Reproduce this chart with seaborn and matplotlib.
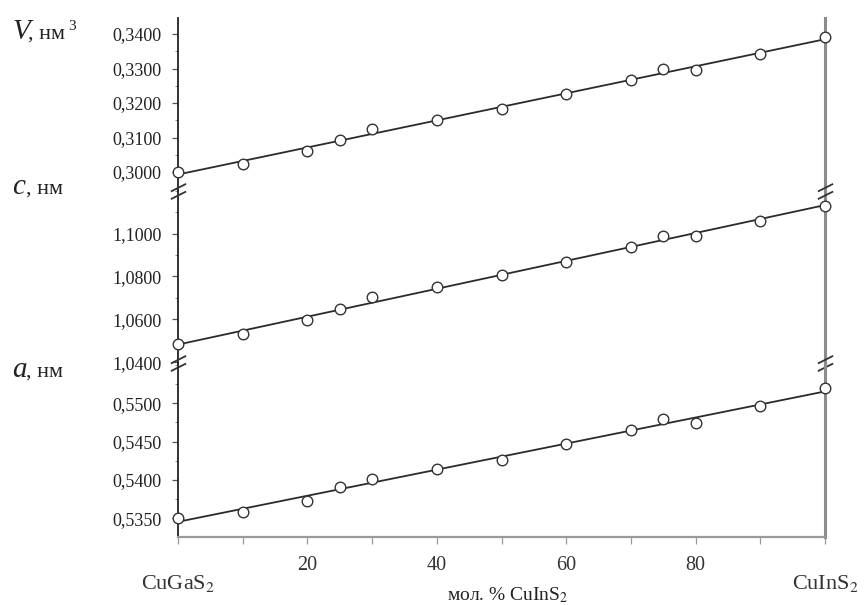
import numpy as np
import pandas as pd
import matplotlib
matplotlib.use("Agg")
import matplotlib.pyplot as plt
import matplotlib.transforms as mtransforms
import seaborn as sns
from matplotlib.path import Path
from matplotlib.ticker import FuncFormatter, MultipleLocator, FixedLocator

# ---- data ----
x_mol = [0, 10, 20, 25, 30, 40, 50, 60, 70, 75, 80, 90, 100]
v_nm3 = [0.3000, 0.3023, 0.3061, 0.3093, 0.3125, 0.3151, 0.3182,
         0.3226, 0.3267, 0.3300, 0.3296, 0.3341, 0.3390]
c_nm = [1.0483, 1.0530, 1.0598, 1.0648, 1.0703, 1.0749, 1.0809,
        1.0869, 1.0937, 1.0991, 1.0991, 1.1060, 1.1129]
a_nm = [0.5351, 0.5358, 0.5373, 0.5391, 0.5401, 0.5414, 0.5426,
        0.5447, 0.5465, 0.5480, 0.5474, 0.5496, 0.5520]

v_ticks = [0.30, 0.31, 0.32, 0.33, 0.34]
c_ticks = [1.04, 1.06, 1.08, 1.10]
a_ticks = [0.535, 0.540, 0.545, 0.550]
x_ticks = [0, 10, 20, 30, 40, 50, 60, 70, 80, 90, 100]
x_labelled = [20, 40, 60, 80]

df = pd.DataFrame({"x": x_mol, "V": v_nm3, "c": c_nm, "a": a_nm})

# ---- style ----
sns.set_style("ticks")
plt.rcParams["font.family"] = ["Liberation Serif", "DejaVu Serif"]
plt.rcParams["mathtext.fontset"] = "stix"

W, H = 865, 605
fig = plt.figure(figsize=(W / 100, H / 100), dpi=100)

def px(x, y):
    return x / W, 1 - y / H

left, right = 178, 825
panels = [
    # name, top px, bottom px, ylim, ticks, minor step
    ("V", 18, 190.5, (0.29464, 0.34464), v_ticks, 0.005),
    ("c", 190.5, 363, (1.0396, 1.1201), c_ticks, 0.01),
    ("a", 363, 537, (0.53256, 0.55526), a_ticks, 0.0025),
]

line_col = "#2b2b2b"
axes = {}
for name, top, bot, ylim, ticks, mstep in panels:
    x0, y1 = px(left, top)
    x1, y0 = px(right, bot)
    ax = fig.add_axes([x0, y0, x1 - x0, y1 - y0])
    ax.set_facecolor("none")
    axes[name] = ax

    # fitted straight line + open circles
    sns.regplot(data=df, x="x", y=name, ax=ax, ci=None, scatter=False,
                truncate=True, line_kws=dict(color=line_col, lw=1.3, zorder=3))
    sns.scatterplot(data=df, x="x", y=name, ax=ax, s=58, color="white",
                    edgecolor="#333333", linewidth=1.0, zorder=4, clip_on=False)

    ax.set_xlim(0, 100)
    ax.set_ylim(*ylim)
    ax.set_xlabel("")
    ax.set_ylabel("")
    ax.yaxis.set_major_locator(FixedLocator(ticks))
    ax.yaxis.set_minor_locator(MultipleLocator(mstep))
    ax.yaxis.set_major_formatter(FuncFormatter(lambda v, p: f"{v:.4f}".replace(".", ",")))
    ax.tick_params(axis="y", which="major", direction="out", length=4.5, width=0.9,
                   color="#555555", labelsize=13, pad=7.5, labelcolor="#222222")
    ax.tick_params(axis="y", which="minor", direction="out", length=2.5, width=0.7,
                   color="#888888")

    ax.spines["top"].set_visible(False)
    ax.spines["left"].set_color("#222222")
    ax.spines["left"].set_linewidth(1.3)
    ax.spines["right"].set_visible(True)
    ax.spines["right"].set_color("#8c8c8c")
    ax.spines["right"].set_linewidth(2.2)
    if name != "a":
        ax.spines["bottom"].set_visible(False)
        ax.tick_params(axis="x", bottom=False, labelbottom=False)

ax_a = axes["a"]
ax_a.spines["bottom"].set_color("#9a9a9a")
ax_a.spines["bottom"].set_linewidth(1.6)
ax_a.xaxis.set_major_locator(FixedLocator(x_ticks))
ax_a.xaxis.set_major_formatter(FuncFormatter(lambda v, p: f"{int(v)}" if int(v) in x_labelled else ""))
ax_a.tick_params(axis="x", direction="out", length=5, width=0.9, color="#999999",
                 labelsize=14.5, pad=9, labelcolor="#333333")

# ---- axis break marks ----
brk = Path([(-1, -1.0), (1, 0.0), (-1, 0.0), (1, 1.0)],
           [Path.MOVETO, Path.LINETO, Path.MOVETO, Path.LINETO])
ax_c = axes["c"]
for yv in ax_c.get_ylim():
    ax_c.plot([0, 100], [yv, yv], ls="none", marker=brk, ms=11, mew=1.3,
              color="#333333", clip_on=False, zorder=6)

# ---- end-member labels and axis title ----
bt = mtransforms.blended_transform_factory(ax_a.transData, fig.transFigure)
ax_a.text(0, 1 - 589 / H, "CuGaS$_2$", transform=bt, ha="center", va="baseline",
          fontsize=16, color="#333333")
ax_a.text(100, 1 - 589 / H, "CuInS$_2$", transform=bt, ha="center", va="baseline",
          fontsize=16, color="#333333")
fig.text(px(508, 0)[0], 1 - 600 / H, "мол. % CuInS$_2$", ha="center", va="baseline",
         fontsize=14, color="#222222")

# ---- quantity labels ----
for letter, base in [("V", 39), ("c", 194), ("a", 377)]:
    fig.text(*px(12, base), letter, style="italic", fontsize=21, va="baseline",
             color="#222222")
    fig.text(*px(28 if letter == "V" else 26, base), ", нм", fontsize=16,
             va="baseline", color="#222222")
fig.text(*px(68, 30), "3", fontsize=11, va="baseline", color="#222222")

fig.savefig("out.png", dpi=100)
